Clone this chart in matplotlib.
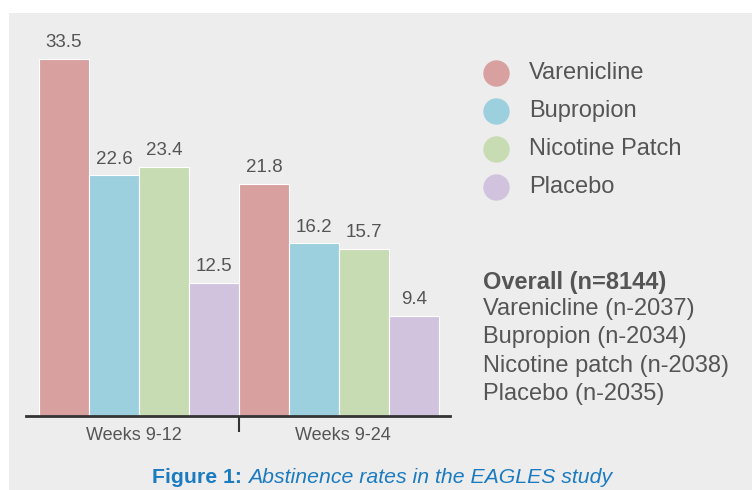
import matplotlib.pyplot as plt
from matplotlib.patches import Rectangle
from matplotlib.lines import Line2D

plt.rcParams['font.family'] = ['Liberation Sans', 'DejaVu Sans']

# data
groups = ['Weeks 9-12', 'Weeks 9-24']
treatments = ['Varenicline', 'Bupropion', 'Nicotine Patch', 'Placebo']
rates_12 = [33.5, 22.6, 23.4, 12.5]
rates_24 = [21.8, 16.2, 15.7, 9.4]
colors = ['#d8a09f', '#9dd0df', '#c7dcb3', '#d1c3de']
overall_lines = ['Varenicline (n-2037)', 'Bupropion (n-2034)',
                 'Nicotine patch (n-2038)', 'Placebo (n-2035)']

W, H = 752, 490
txt = '#555555'

def fx(px):
    return px / W

def fy(py):
    return 1 - py / H

fig = plt.figure(figsize=(W / 100, H / 100), dpi=100)
fig.patch.set_facecolor('white')
fig.patches.append(Rectangle((fx(9), 0), 1, fy(13), transform=fig.transFigure,
                             facecolor='#ededed', edgecolor='none', zorder=-5))

ax = fig.add_axes([fx(26), fy(416), fx(450) - fx(26), fy(40) - fy(416)])
ax.set_facecolor('none')
ax.set_zorder(2)

n = len(treatments)
for g, vals in enumerate([rates_12, rates_24]):
    for i, v in enumerate(vals):
        x = g * n + i
        ax.bar(x, v, width=1.0, color=colors[i], edgecolor='white', linewidth=0.8, zorder=2)
        ax.text(x, v + 0.7, f'{v}', ha='center', va='bottom', fontsize=13.5, color=txt)

ax.set_xlim(-0.76, 7.72)
ax.set_ylim(0, 35.27)
for s in ['top', 'right', 'left']:
    ax.spines[s].set_visible(False)
ax.spines['bottom'].set_color('#333333')
ax.spines['bottom'].set_linewidth(2)
ax.spines['bottom'].set_zorder(3)
ax.set_yticks([])
ax.set_xticks([3.5])
ax.set_xticklabels([''])
ax.tick_params(axis='x', which='major', length=11.5, width=1.5, color='#333333')
ax.set_xticks([1.4, 5.58], minor=True)
ax.set_xticklabels(groups, minor=True)
ax.tick_params(axis='x', which='minor', length=0, pad=8, labelsize=13, labelcolor=txt)

# legend
leg_y = [73, 111, 149, 187]
for t, c, y in zip(treatments, colors, leg_y):
    fig.add_artist(Line2D([fx(496)], [fy(y)], marker='o', markersize=19,
                          markerfacecolor=c, markeredgecolor='none',
                          linestyle='none', transform=fig.transFigure))
    fig.text(fx(529), fy(y), t, fontsize=17, color=txt, va='center', ha='left')

fig.text(fx(483), fy(282), 'Overall (n=8144)', fontsize=17, color=txt,
         fontweight='bold', va='center', ha='left')
for i, line in enumerate(overall_lines):
    fig.text(fx(483), fy(309 + 28.3 * i), line, fontsize=17, color=txt,
             va='center', ha='left')

# caption
cap_color = '#1b7bc0'
t1 = fig.text(fx(152), fy(477), 'Figure 1: ', fontsize=15.3, color=cap_color,
              fontweight='bold', va='center', ha='left')
fig.canvas.draw()
bb = t1.get_window_extent()
fig.text(bb.x1 / W, fy(477), 'Abstinence rates in the EAGLES study', fontsize=15.3,
         color=cap_color, style='italic', va='center', ha='left')

fig.savefig('out.png', dpi=100)
